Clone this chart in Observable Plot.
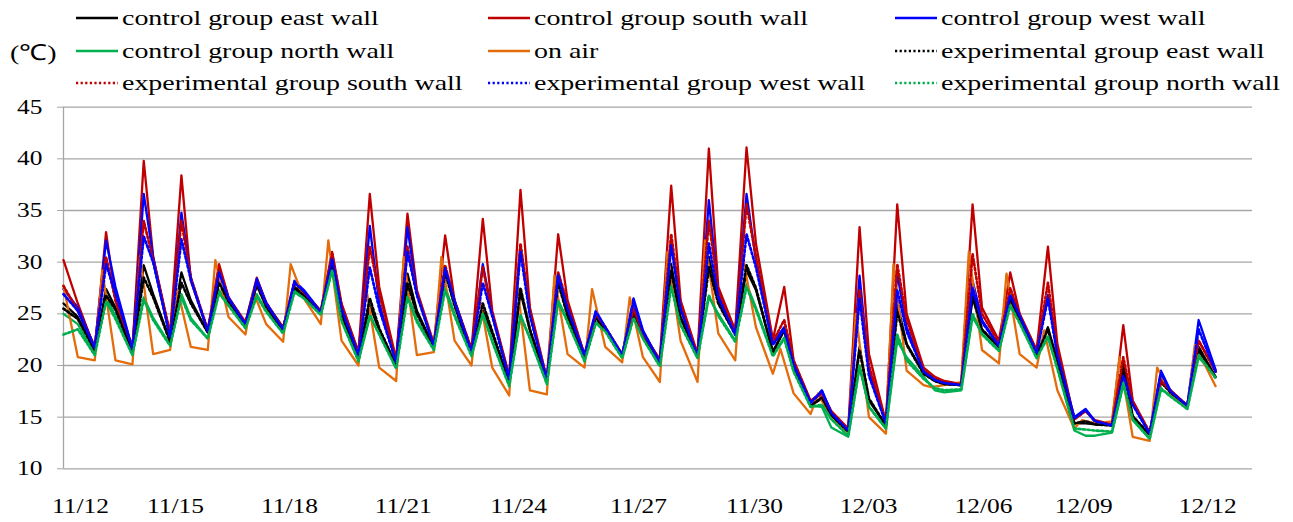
<!DOCTYPE html>
<html><head><meta charset="utf-8">
<script src="https://cdn.jsdelivr.net/npm/d3@7"></script>
<script src="https://cdn.jsdelivr.net/npm/@observablehq/plot@0.6"></script>
<style>
html,body{margin:0;padding:0;background:#fff;}
#wrap{position:relative;width:1293px;height:522px;overflow:hidden;font-family:"Liberation Serif","Times New Roman",serif;}
#legend{position:absolute;left:0;top:0;width:1293px;height:96px;}
.item{position:absolute;height:30px;display:flex;align-items:center;}
.item svg{flex:none;display:block;}
.lab{display:inline-block;font-size:22px;color:#000;transform:scaleX(1.27);transform-origin:0 50%;white-space:nowrap;margin-left:4px;}
#chart{position:absolute;left:0;top:96px;}
</style></head><body><div id="wrap"><div id="legend"></div><div id="chart"></div></div>
<script>
// ---- data (°C) : per series, [day0 start, day0 evening, then per day 1..30: pre-dawn min, midday peak, evening] ----
const ctrlEast = [26.0,24.7,
 21.5,27.4,25.6, 21.5,29.7,26.9, 22.4,29.0,26.3, 23.2,28.1,26.3, 24.0,27.9,25.8,
 23.4,27.6,26.9, 25.1,29.8,25.0, 20.9,25.8,23.4, 20.0,28.9,25.3, 21.8,29.4,26.0,
 21.1,25.3,23.1, 18.4,27.1,23.4, 18.5,28.9,25.0, 20.8,24.7,23.6, 20.9,25.0,23.0,
 20.4,29.8,24.7, 21.1,30.5,26.3, 23.1,29.2,27.3, 21.3,23.4,19.8, 16.1,16.8,15.2,
 13.6,21.8,16.6, 14.2,26.0,22.1, 19.3,18.5,18.2, 18.1,26.6,23.4, 21.8,26.6,24.5,
 21.0,23.7,20.4, 14.4,14.4,14.3, 14.2,20.2,15.0, 13.3,18.5,17.5, 16.1,21.8,18.9];
const ctrlSouth = [30.2,26.0,
 21.6,32.9,26.3, 21.6,39.8,30.5, 23.1,38.4,28.2, 23.4,29.8,26.6, 24.2,28.5,26.0,
 23.7,28.1,27.1, 25.3,31.0,26.0, 21.3,36.6,27.6, 20.6,34.7,27.3, 22.1,32.6,26.3,
 21.6,34.2,25.3, 19.0,37.0,25.6, 18.7,32.7,26.3, 21.0,25.0,23.7, 21.1,25.6,23.1,
 20.6,37.4,26.3, 21.1,41.0,27.6, 23.4,41.1,31.8, 22.5,27.6,20.5, 16.6,17.4,15.6,
 13.9,33.4,21.1, 14.5,35.6,25.0, 19.8,18.9,18.5, 18.2,35.6,25.6, 22.4,29.0,25.0,
 21.5,31.5,22.1, 14.8,15.6,14.7, 14.3,23.9,16.6, 13.5,18.8,17.6, 16.1,22.4,19.5];
const ctrlWest = [27.4,25.6,
 21.8,32.1,27.6, 21.6,36.6,30.5, 22.7,34.8,28.5, 23.3,29.2,26.6, 24.0,28.4,26.1,
 23.5,28.2,27.3, 25.2,30.5,25.6, 21.0,33.5,26.0, 20.4,33.4,27.0, 21.9,29.5,26.3,
 21.4,29.8,25.0, 18.8,31.6,25.0, 18.6,28.9,25.6, 21.0,25.3,23.7, 21.0,26.5,23.4,
 20.3,32.1,25.6, 20.8,36.0,26.9, 23.1,36.6,30.2, 22.2,23.7,20.2, 16.4,17.6,15.4,
 13.7,28.7,19.5, 14.4,28.9,23.7, 19.5,18.6,18.3, 18.1,28.2,24.4, 21.9,26.9,24.8,
 21.2,26.8,21.1, 15.0,15.8,14.6, 14.2,19.4,16.3, 13.4,19.5,17.6, 16.1,24.4,19.6];
const ctrlNorth = [25.0,24.0,
 21.1,26.6,24.8, 21.1,26.6,24.6, 22.0,26.9,24.6, 22.6,27.3,26.0, 23.7,26.9,25.3,
 23.2,27.3,26.6, 25.0,29.4,24.4, 20.5,24.7,23.1, 19.8,26.9,24.4, 21.6,27.6,25.0,
 21.0,25.0,22.4, 18.1,24.7,22.7, 18.3,26.3,24.4, 20.5,24.2,23.4, 20.8,24.7,22.7,
 20.0,28.2,24.0, 20.8,26.6,25.0, 22.4,27.9,25.6, 21.0,22.7,19.5, 16.1,16.0,14.0,
 13.1,19.8,16.0, 13.9,22.4,20.8, 18.9,17.6,17.4, 17.6,24.7,23.1, 21.5,26.0,24.2,
 20.8,22.7,19.8, 13.7,13.2,13.2, 13.5,18.1,14.7, 12.9,17.7,17.1, 15.8,20.8,18.9];
const onAir = [27.7,20.8,
 20.5,29.2,20.5, 20.1,30.6,21.1, 21.5,27.3,21.8, 21.5,30.2,24.7, 23.0,27.2,24.0,
 22.3,29.8,26.5, 24.0,32.1,22.4, 20.0,27.6,19.8, 18.5,30.5,21.0, 21.3,30.5,22.4,
 20.0,26.9,19.8, 17.1,28.2,17.6, 17.2,28.7,21.1, 19.8,27.4,21.8, 20.3,26.6,20.8,
 18.4,31.0,22.4, 18.4,32.1,23.1, 20.5,30.5,23.7, 19.2,21.6,17.3, 15.3,17.3,14.8,
 13.5,25.0,15.0, 13.4,29.8,19.5, 18.1,17.9,18.1, 18.4,31.0,21.5, 20.2,28.9,21.1,
 19.8,23.4,17.6, 13.9,14.7,14.4, 14.6,20.8,13.1, 12.7,19.8,17.3, 16.0,22.0,18.0];
const expEast = [25.5,24.5,
 21.5,26.8,25.4, 21.4,28.5,26.6, 22.3,28.0,26.0, 23.2,28.0,26.2, 24.0,27.8,25.7,
 23.4,27.5,26.8, 25.1,29.6,24.9, 20.9,26.5,23.6, 20.0,28.0,25.0, 21.8,29.0,25.8,
 21.1,26.0,23.3, 18.4,27.5,23.5, 18.5,28.0,24.8, 20.8,24.6,23.5, 20.9,25.0,23.0,
 20.4,29.2,24.6, 21.0,29.5,26.0, 23.0,29.7,27.5, 21.3,23.5,19.9, 16.1,16.9,15.2,
 13.6,21.5,16.8, 14.2,25.2,22.0, 19.2,18.5,18.2, 18.1,26.8,23.5, 21.8,26.5,24.4,
 21.0,23.5,20.3, 14.4,14.6,14.3, 14.2,19.6,15.1, 13.3,18.4,17.4, 16.1,21.5,18.8];
const expSouth = [27.7,25.3,
 21.8,30.5,26.3, 21.8,34.0,30.2, 23.1,34.0,28.5, 23.4,29.5,26.5, 24.1,28.2,26.0,
 23.6,28.0,27.1, 25.2,30.8,25.8, 21.2,31.5,27.0, 20.5,31.5,27.0, 22.0,29.7,26.2,
 21.5,29.5,25.0, 18.9,31.8,25.3, 18.6,29.0,26.0, 21.0,25.0,23.7, 21.0,25.5,23.1,
 20.5,32.7,26.0, 21.0,34.0,27.3, 23.2,35.6,30.5, 22.3,24.4,20.4, 16.5,17.3,15.5,
 13.8,27.3,20.0, 14.5,29.8,24.5, 19.6,18.8,18.4, 18.2,30.8,25.0, 22.2,27.5,24.9,
 21.4,28.0,21.5, 14.8,15.6,14.6, 14.3,20.8,16.5, 13.5,18.5,17.6, 16.1,22.4,19.4];
const expWest = [26.9,25.3,
 21.7,29.8,27.0, 21.6,32.5,30.0, 22.7,32.2,28.3, 23.3,29.0,26.5, 24.0,28.2,26.0,
 23.5,28.0,27.2, 25.1,30.3,25.5, 21.0,29.5,25.5, 20.3,31.0,26.8, 21.9,29.4,26.2,
 21.3,28.0,24.8, 18.7,31.0,24.8, 18.6,28.7,25.5, 21.0,25.2,23.7, 21.0,26.2,23.3,
 20.3,31.6,25.5, 20.8,31.8,26.6, 23.0,32.7,29.5, 22.0,23.5,20.1, 16.4,17.5,15.4,
 13.7,26.5,19.0, 14.4,27.3,23.3, 19.4,18.6,18.3, 18.1,27.5,24.2, 21.9,26.8,24.8,
 21.2,26.5,21.0, 14.9,15.7,14.6, 14.2,19.0,16.2, 13.4,19.3,17.5, 16.1,23.5,19.4];
const expNorth = [23.0,23.5,
 21.0,26.2,24.5, 21.0,26.4,24.4, 21.9,26.6,24.4, 22.6,27.0,25.8, 23.6,26.7,25.2,
 23.1,27.1,26.5, 24.9,29.2,24.3, 20.4,24.9,23.0, 19.7,26.6,24.2, 21.5,27.3,24.8,
 20.9,25.0,22.3, 18.0,24.9,22.6, 18.2,26.2,24.2, 20.4,24.1,23.3, 20.7,24.6,22.6,
 19.9,27.6,23.9, 20.7,26.8,24.8, 22.3,27.6,25.4, 20.9,22.6,19.4, 16.0,16.2,14.8,
 13.2,20.0,16.0, 13.9,23.0,20.5, 18.7,17.8,17.6, 17.7,25.0,23.0, 21.4,25.8,24.1,
 20.7,22.8,19.7, 13.9,13.8,13.7, 13.6,18.3,14.8, 12.9,17.8,17.0, 15.8,21.0,18.8];

const seriesNames = ["control group east wall","control group south wall","control group west wall",
 "control group north wall","on air","experimental group east wall",
 "experimental group south wall","experimental group west wall","experimental group north wall"];
const seriesValues = [ctrlEast, ctrlSouth, ctrlWest, ctrlNorth, onAir, expEast, expSouth, expWest, expNorth];
const seriesColors = ["#000000","#c00000","#0000ff","#00b050","#e46c0a","#000000","#c00000","#0000ff","#00b050"];
const seriesDotted = [false,false,false,false,false,true,true,true,true];
const seriesPeakHour = [0.5,0.5,0.5,0.5,0.4,0.5,0.5,0.5,0.5]; // time of day of the daily peak

const yTicks = [10,15,20,25,30,35,40,45];
const xTickLabels = ["11/12","11/15","11/18","11/21","11/24","11/27","11/30","12/03","12/06","12/09","12/12"];
const xTickDays = [0.82,3.34,6.37,9.39,12.45,15.63,18.71,21.74,24.79,27.45,30.74];
const unitLabel = "(℃)";

// ---- sampling times (days since 11/12 00:00) ----
function sampleTimes(peak){
  const t=[0.37,0.75];
  for(let d=1; d<=29; d++) t.push(d+0.2, d+peak, d+0.75);
  t.push(30.2, 30+peak, 30.95);
  return t;
}
const rows = [];
seriesValues.forEach((vals,k)=>{
  const ts = sampleTimes(seriesPeakHour[k]);
  vals.forEach((v,i)=>rows.push({series:seriesNames[k], t:ts[i], v}));
});

const xDomain=[0.37,31.93];
const labelMap = new Map(xTickDays.map((d,i)=>[d,xTickLabels[i]]));
const gridColor="#a6a6a6";

const chart = Plot.plot({
  width:1293, height:426,
  marginLeft:63, marginRight:41, marginTop:10.7, marginBottom:53.7,
  style:{fontFamily:'"Liberation Serif","Times New Roman",serif', fontSize:"20px", color:"#000", background:"#fff"},
  x:{domain:xDomain, type:"linear"},
  y:{domain:[10,45]},
  marks:[
    Plot.gridY(yTicks,{stroke:gridColor, strokeOpacity:1, strokeWidth:1.3}),
    Plot.ruleX([xDomain[0]],{stroke:gridColor, strokeWidth:1.3}),
    Plot.axisY(yTicks,{label:null, tickSize:6, tickPadding:15, stroke:gridColor, strokeOpacity:1, fontSize:20, fill:"#000"}),
    Plot.axisX(xTickDays,{label:null, tickSize:0, tickPadding:30, tickFormat:d=>labelMap.get(d), fontSize:20, fill:"#000"}),
    ...seriesNames.map((name,k)=>Plot.line(rows.filter(r=>r.series===name),{
      x:"t", y:"v", stroke:seriesColors[k],
      strokeWidth: seriesDotted[k]?2.7:2.3,
      strokeDasharray: seriesDotted[k]?"2.2,2.4":null,
      strokeLinejoin:"round"
    }))
  ]
});
chart.querySelectorAll('g[aria-label="y-axis tick label"] text, g[aria-label="x-axis tick label"] text').forEach(t=>{
  const tr=t.getAttribute("transform");
  if(tr) t.setAttribute("transform", tr+" scale(1.27,1)");
});
document.getElementById("chart").appendChild(chart);

// ---- legend ----
const legend=document.getElementById("legend");
const colLeft=[76,488,895], rowCenter=[18,51,83];
seriesNames.forEach((name,i)=>{
  const c=i%3, r=Math.floor(i/3);
  const it=document.createElement("div");
  it.className="item";
  it.style.left=colLeft[c]+"px"; it.style.top=(rowCenter[r]-15)+"px";
  const dash = seriesDotted[i] ? 'stroke-dasharray="2.2,2.4"' : '';
  it.innerHTML=`<svg width="42" height="6"><line x1="0" y1="3" x2="42" y2="3" stroke="${seriesColors[i]}" stroke-width="${seriesDotted[i]?2.6:2.5}" ${dash}/></svg><span class="lab">${name}</span>`;
  legend.appendChild(it);
});
const u=document.createElement("div");
u.className="item"; u.style.left="10px"; u.style.top=(rowCenter[1]-15)+"px";
u.innerHTML=`<span class="lab" style="margin-left:0">${unitLabel}</span>`;
legend.appendChild(u);
</script></body></html>
